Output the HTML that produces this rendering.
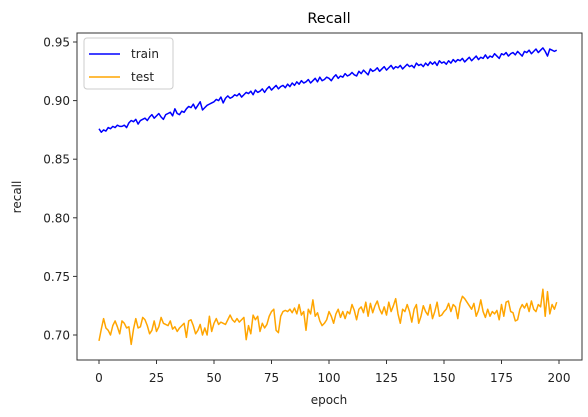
<!DOCTYPE html>
<html><head><meta charset="utf-8"><style>
body{margin:0;background:#fff;}
svg{display:block;font-family:"DejaVu Sans","Liberation Sans",sans-serif;}
</style></head><body>
<svg id="chart" width="588" height="417">
<rect x="0" y="0" width="588" height="417" fill="#fff"/>
<text x="329" y="23" text-anchor="middle" font-size="14.5" fill="#000">Recall</text>
<g id="xticks"></g><g id="yticks"></g>
<g id="lines"></g>
<rect x="77" y="33" width="505" height="327" fill="none" stroke="#333" stroke-width="1"/>
<text x="329" y="404" text-anchor="middle" font-size="12" fill="#222">epoch</text>
<text transform="translate(21,197) rotate(-90)" text-anchor="middle" font-size="12" fill="#222">recall</text>
<g>
<rect x="84" y="38" width="89" height="51" rx="3" fill="#fff" stroke="#ccc"/>
<line x1="89" y1="54" x2="120" y2="54" stroke="blue" stroke-width="1.5"/>
<text x="131" y="58" font-size="12" fill="#222">train</text>
<line x1="89" y1="77" x2="120" y2="77" stroke="orange" stroke-width="1.5"/>
<text x="131" y="81" font-size="12" fill="#222">test</text>
</g>
</svg>
<script>
const xTicks=[0,25,50,75,100,125,150,175,200];
const yTicks=[0.70,0.75,0.80,0.85,0.90,0.95];
const yTickLabels=["0.70","0.75","0.80","0.85","0.90","0.95"];
const train=[.876,.873,.875,.874,.877,.876,.878,.877,.879,.878,
.878,.879,.877,.881,.883,.882,.884,.880,.883,.884,
.885,.883,.886,.888,.885,.887,.889,.886,.884,.888,
.889,.890,.887,.893,.889,.888,.891,.890,.893,.895,
.894,.897,.893,.896,.899,.892,.894,.896,.897,.898,
.899,.901,.900,.903,.898,.902,.904,.902,.903,.905,
.904,.906,.903,.905,.907,.906,.908,.905,.909,.907,
.908,.910,.907,.910,.912,.909,.911,.913,.910,.912,
.913,.911,.914,.912,.915,.913,.916,.914,.917,.915,
.916,.918,.915,.917,.919,.916,.920,.917,.918,.920,
.919,.917,.920,.922,.919,.921,.920,.923,.921,.922,
.924,.922,.921,.925,.923,.926,.924,.922,.927,.925,
.926,.928,.925,.927,.929,.926,.928,.930,.927,.929,
.928,.930,.927,.929,.931,.929,.930,.928,.932,.930,
.931,.929,.932,.930,.933,.931,.933,.930,.934,.932,
.933,.931,.934,.932,.935,.933,.935,.934,.936,.933,
.935,.937,.934,.936,.938,.935,.937,.936,.939,.936,
.938,.937,.940,.938,.936,.940,.939,.941,.938,.940,
.941,.939,.942,.940,.938,.942,.941,.943,.940,.942,
.944,.941,.943,.945,.942,.938,.944,.943,.942,.943];
const test=[.695,.705,.714,.706,.704,.700,.708,.712,.707,.701,
.712,.710,.706,.707,.692,.705,.714,.706,.707,.715,
.713,.708,.701,.704,.712,.703,.707,.715,.710,.709,
.708,.712,.705,.707,.703,.706,.708,.710,.698,.712,
.713,.708,.701,.704,.709,.700,.706,.700,.716,.703,
.710,.714,.709,.711,.710,.709,.713,.717,.713,.711,
.714,.711,.713,.715,.696,.708,.701,.717,.713,.716,
.703,.710,.706,.709,.716,.720,.722,.704,.702,.716,
.720,.721,.720,.722,.719,.723,.718,.726,.717,.720,
.704,.722,.718,.730,.716,.719,.712,.708,.710,.713,
.720,.716,.710,.718,.722,.715,.720,.714,.720,.718,
.726,.721,.713,.722,.724,.719,.728,.716,.727,.719,
.725,.729,.722,.718,.724,.717,.728,.720,.725,.731,
.718,.710,.722,.720,.726,.720,.711,.722,.726,.710,
.716,.725,.720,.717,.726,.714,.720,.728,.716,.717,
.720,.722,.727,.720,.726,.724,.714,.727,.733,.731,
.728,.725,.722,.727,.716,.721,.730,.720,.715,.722,
.716,.720,.718,.721,.713,.726,.716,.728,.729,.720,
.719,.712,.713,.722,.726,.723,.727,.720,.729,.722,
.720,.726,.724,.739,.716,.737,.718,.726,.722,.728];
const NS="http://www.w3.org/2000/svg";
function xs(v){return 99+(v-0)*(559-99)/200;}
function ys(v){return 335-(v-0.70)*(335-42)/0.25;}
const xg=document.getElementById('xticks'),yg=document.getElementById('yticks'),lg=document.getElementById('lines');
xTicks.forEach(t=>{
 const l=document.createElementNS(NS,'line');
 l.setAttribute('x1',xs(t));l.setAttribute('x2',xs(t));l.setAttribute('y1',360);l.setAttribute('y2',364);l.setAttribute('stroke','#333');
 
 
 xg.appendChild(l);
 const tx=document.createElementNS(NS,'text');
 tx.setAttribute('x',xs(t));tx.setAttribute('y',382);tx.setAttribute('text-anchor','middle');tx.setAttribute('font-size','12');tx.setAttribute('fill','#222');
 tx.textContent=t;
 
 
 xg.appendChild(tx);
});
yTicks.forEach((t,i)=>{
 const l=document.createElementNS(NS,'line');
 l.setAttribute('x1',73);l.setAttribute('x2',77);l.setAttribute('y1',ys(t));l.setAttribute('y2',ys(t));l.setAttribute('stroke','#333');
 
 
 yg.appendChild(l);
 const tx=document.createElementNS(NS,'text');
 tx.setAttribute('x',70);tx.setAttribute('y',ys(t)+4.5);tx.setAttribute('text-anchor','end');tx.setAttribute('font-size','12');tx.setAttribute('fill','#222');
 tx.textContent=yTickLabels[i];
 
 
 yg.appendChild(tx);
});
function drawLine(arr,color,name){
 const p=document.createElementNS(NS,'polyline');
 p.setAttribute('points',arr.map((v,i)=>xs(i).toFixed(2)+','+ys(v).toFixed(2)).join(' '));
 p.setAttribute('fill','none');p.setAttribute('stroke',color);p.setAttribute('stroke-width','1.5');p.setAttribute('stroke-linejoin','round');
 
 
 lg.appendChild(p);
}
drawLine(train,'blue','train-line');
drawLine(test,'orange','test-line');
</script>
</body></html>
